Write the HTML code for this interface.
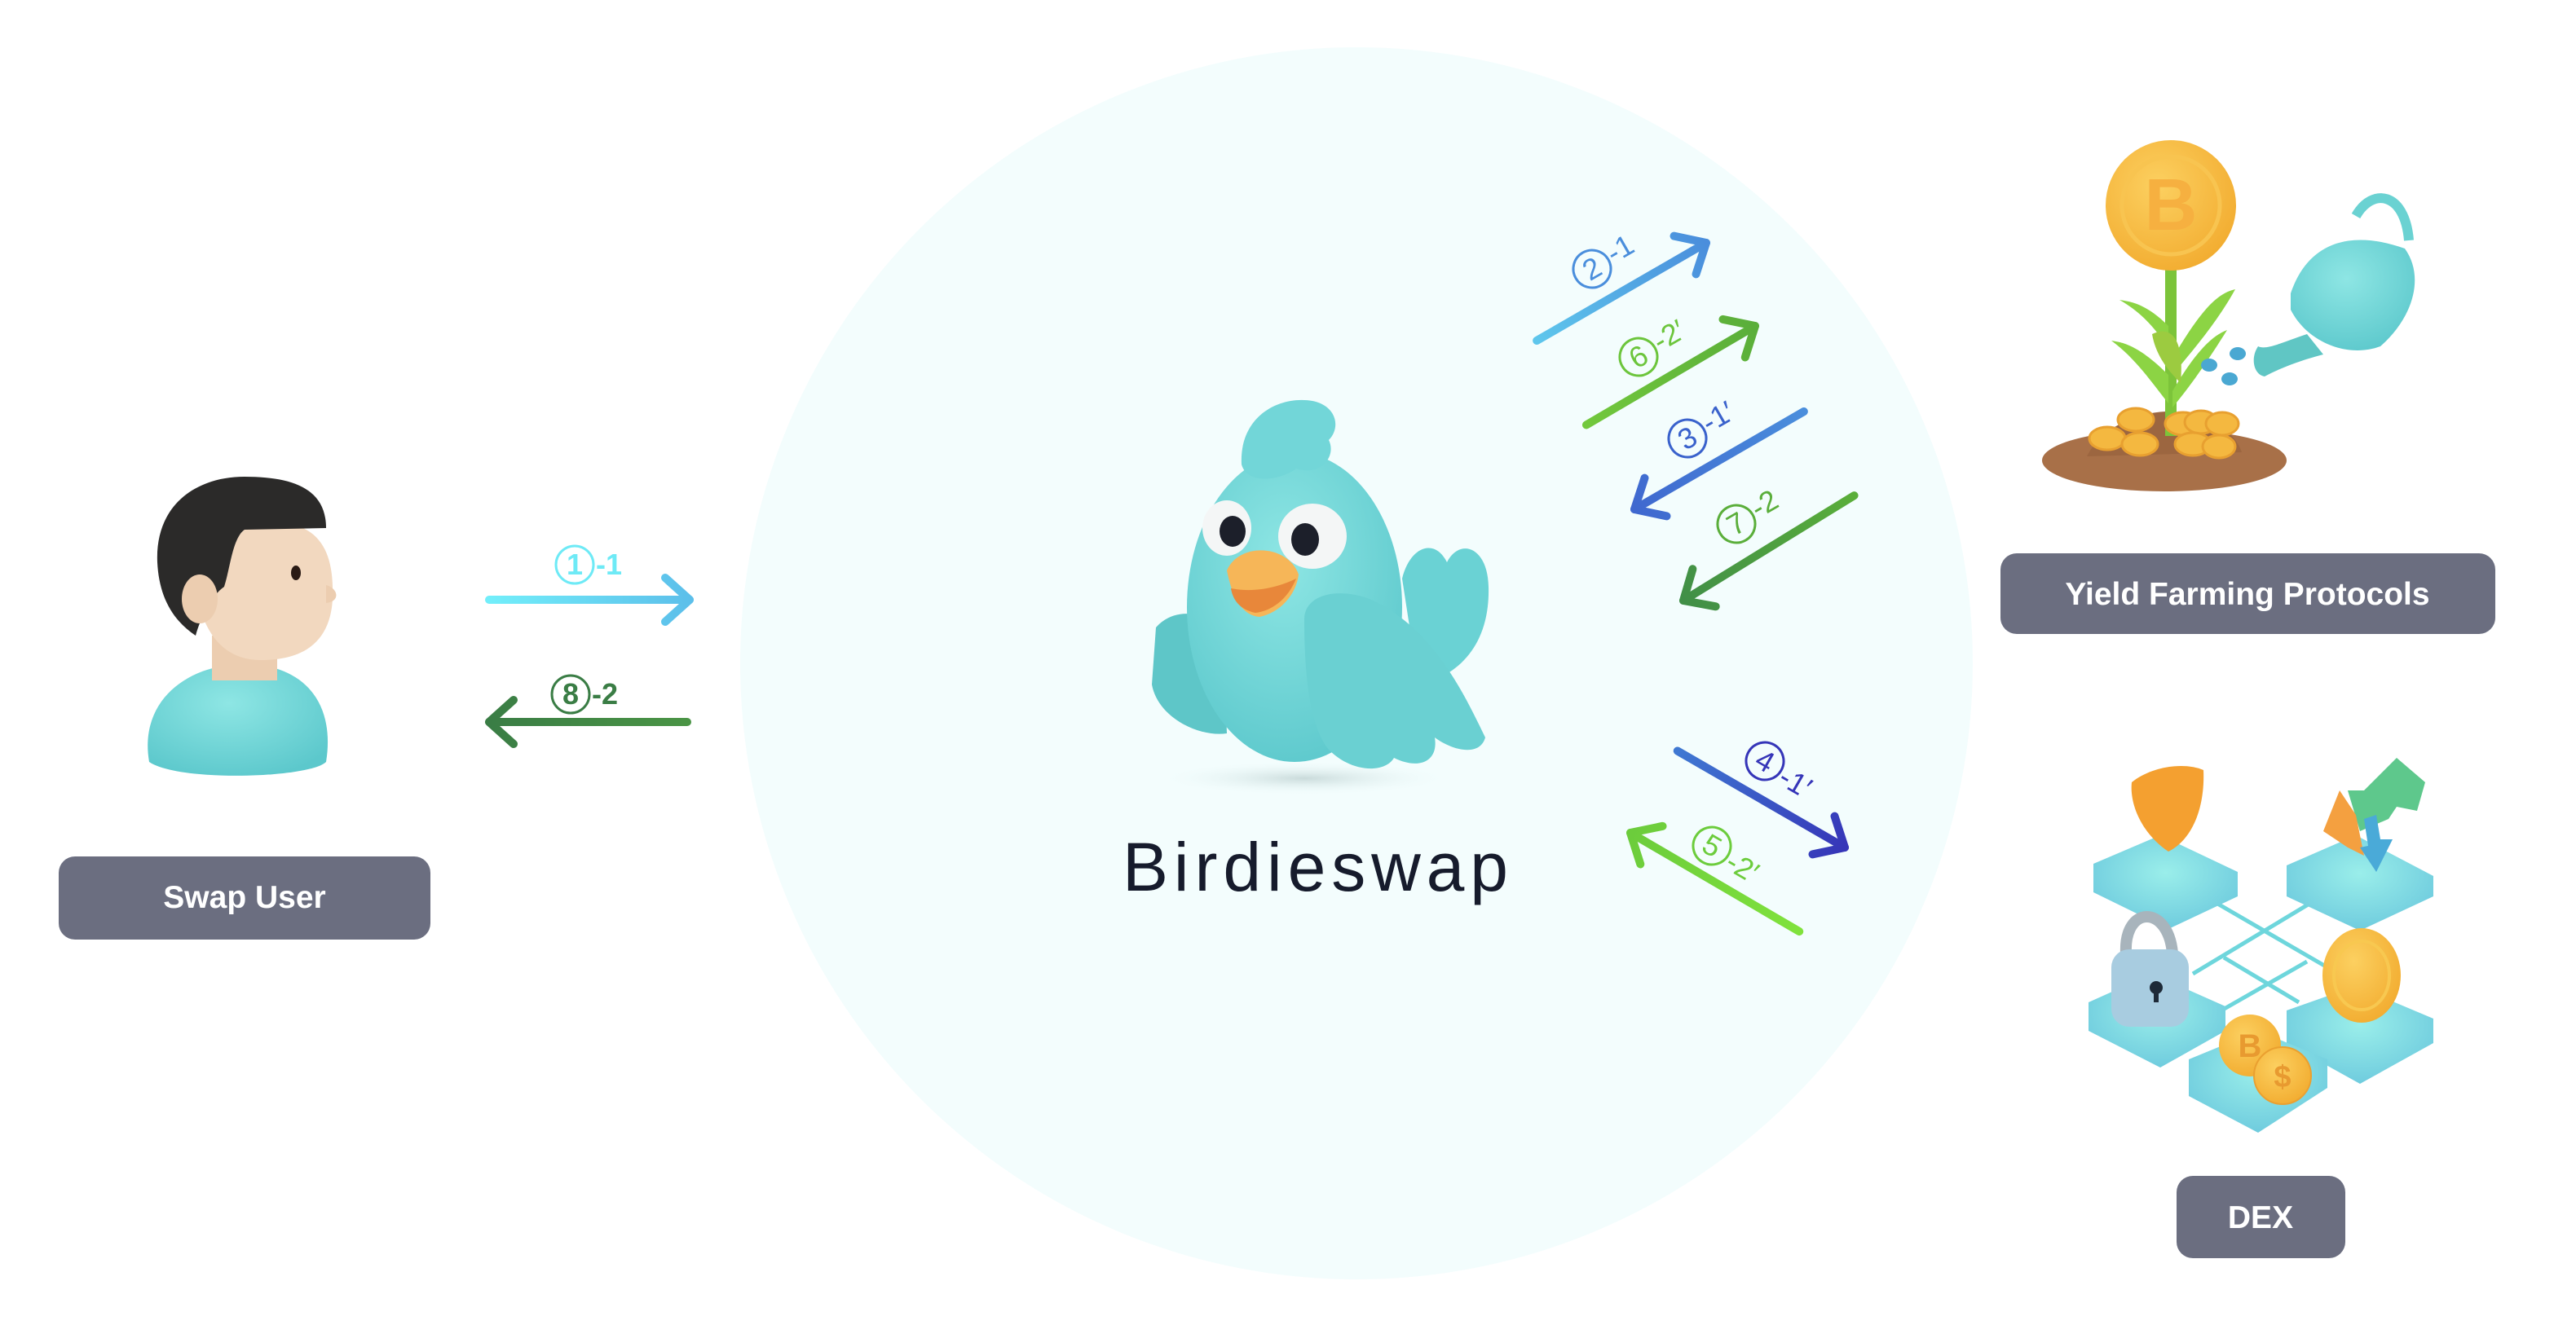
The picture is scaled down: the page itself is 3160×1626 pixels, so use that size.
<!DOCTYPE html>
<html><head><meta charset="utf-8"><style>
html,body{margin:0;padding:0;background:#fff;}
svg{display:block;}
text{font-family:"Liberation Sans",sans-serif;}
</style></head><body>
<svg width="3160" height="1626" viewBox="0 0 3160 1626" xmlns="http://www.w3.org/2000/svg">
<defs>
<linearGradient id="g1" gradientUnits="userSpaceOnUse" x1="-240" y1="0" x2="0" y2="0"><stop offset="0" stop-color="#5ec6ec"/><stop offset="1" stop-color="#4a8edc"/></linearGradient>
<linearGradient id="g2" gradientUnits="userSpaceOnUse" x1="-240" y1="0" x2="0" y2="0"><stop offset="0" stop-color="#72c83c"/><stop offset="1" stop-color="#5aae3a"/></linearGradient>
<linearGradient id="g3" gradientUnits="userSpaceOnUse" x1="-240" y1="0" x2="0" y2="0"><stop offset="0" stop-color="#4a8edc"/><stop offset="1" stop-color="#3f68cf"/></linearGradient>
<linearGradient id="g4" gradientUnits="userSpaceOnUse" x1="-246" y1="0" x2="0" y2="0"><stop offset="0" stop-color="#5aae3a"/><stop offset="1" stop-color="#418f47"/></linearGradient>
<linearGradient id="g5" gradientUnits="userSpaceOnUse" x1="-237" y1="0" x2="0" y2="0"><stop offset="0" stop-color="#3f78d2"/><stop offset="1" stop-color="#3636b8"/></linearGradient>
<linearGradient id="g6" gradientUnits="userSpaceOnUse" x1="-240" y1="0" x2="0" y2="0"><stop offset="0" stop-color="#80e23c"/><stop offset="1" stop-color="#6ccc3c"/></linearGradient>
<linearGradient id="g7" gradientUnits="userSpaceOnUse" x1="-246" y1="0" x2="0" y2="0"><stop offset="0" stop-color="#72eefa"/><stop offset="1" stop-color="#5cbfea"/></linearGradient>
<linearGradient id="g8" gradientUnits="userSpaceOnUse" x1="-243" y1="0" x2="0" y2="0"><stop offset="0" stop-color="#4a9445"/><stop offset="1" stop-color="#3a7d45"/></linearGradient>
<radialGradient id="coin" cx="0.4" cy="0.35" r="0.7"><stop offset="0" stop-color="#fcd060"/><stop offset="1" stop-color="#f2ac30"/></radialGradient>
<radialGradient id="teal" cx="0.45" cy="0.35" r="0.7"><stop offset="0" stop-color="#8ee6e4"/><stop offset="1" stop-color="#5cc8cc"/></radialGradient>
<radialGradient id="tile" cx="0.5" cy="0.4" r="0.7"><stop offset="0" stop-color="#9aeeea"/><stop offset="1" stop-color="#68c6dc"/></radialGradient>
<radialGradient id="shadow" cx="0.5" cy="0.5" r="0.5"><stop offset="0" stop-color="#b8cccc" stop-opacity="0.7"/><stop offset="1" stop-color="#e8f8f8" stop-opacity="0"/></radialGradient>
</defs>

<circle cx="1664" cy="814" r="756" fill="#f3fdfd"/>

<!-- arrows -->
<g fill="none" stroke-width="10" stroke-linecap="round" stroke-linejoin="round">
<g transform="translate(2093,298) rotate(-30)" stroke="url(#g1)"><line x1="-240" y1="0" x2="0" y2="0"/><polyline points="-30,-27 0,0 -30,27"/></g>
<g transform="translate(2153,400) rotate(-30.4)" stroke="url(#g2)"><line x1="-240" y1="0" x2="0" y2="0"/><polyline points="-30,-27 0,0 -30,27"/></g>
<g transform="translate(2005,625) rotate(150)" stroke="url(#g3)"><line x1="-240" y1="0" x2="0" y2="0"/><polyline points="-30,-27 0,0 -30,27"/></g>
<g transform="translate(2065,737) rotate(148.4)" stroke="url(#g4)"><line x1="-246" y1="0" x2="0" y2="0"/><polyline points="-30,-27 0,0 -30,27"/></g>
<g transform="translate(2263,1040) rotate(30)" stroke="url(#g5)"><line x1="-237" y1="0" x2="0" y2="0"/><polyline points="-30,-27 0,0 -30,27"/></g>
<g transform="translate(2000,1022) rotate(210.3)" stroke="url(#g6)"><line x1="-240" y1="0" x2="0" y2="0"/><polyline points="-30,-27 0,0 -30,27"/></g>
<g transform="translate(846,736)" stroke="url(#g7)"><line x1="-246" y1="0" x2="0" y2="0"/><polyline points="-30,-27 0,0 -30,27"/></g>
<g transform="translate(600,886) rotate(180)" stroke="url(#g8)"><line x1="-243" y1="0" x2="0" y2="0"/><polyline points="-30,-27 0,0 -30,27"/></g>
</g>

<!-- labels -->
<g font-size="36" font-weight="500">
<g transform="translate(1953,330) rotate(-30)" fill="#4a8edc"><circle r="23" fill="none" stroke="#4a8edc" stroke-width="3"/><text x="0" y="12" text-anchor="middle">2</text><text x="26" y="8">-1</text></g>
<g transform="translate(2010,438) rotate(-30)" fill="#6cc53c"><circle r="23" fill="none" stroke="#6cc53c" stroke-width="3"/><text x="0" y="12" text-anchor="middle">6</text><text x="26" y="8">-2′</text></g>
<g transform="translate(2070,538) rotate(-30)" fill="#3a62cc"><circle r="23" fill="none" stroke="#3a62cc" stroke-width="3"/><text x="0" y="12" text-anchor="middle">3</text><text x="26" y="8">-1′</text></g>
<g transform="translate(2130,643) rotate(-30)" fill="#5aae3a"><circle r="23" fill="none" stroke="#5aae3a" stroke-width="3"/><text x="0" y="12" text-anchor="middle">7</text><text x="26" y="8">-2</text></g>
<g transform="translate(2165,934) rotate(30)" fill="#3535b8"><circle r="23" fill="none" stroke="#3535b8" stroke-width="3"/><text x="0" y="12" text-anchor="middle">4</text><text x="26" y="16">-1′</text></g>
<g transform="translate(2100,1038) rotate(30)" fill="#6ccc3c"><circle r="23" fill="none" stroke="#6ccc3c" stroke-width="3"/><text x="0" y="12" text-anchor="middle">5</text><text x="26" y="16">-2′</text></g>
<g transform="translate(705,693)" fill="#6eeaf6" font-weight="700"><circle r="23" fill="none" stroke="#6eeaf6" stroke-width="3"/><text x="0" y="12" text-anchor="middle">1</text><text x="26" y="12">-1</text></g>
<g transform="translate(700,852)" fill="#3a7d45" font-weight="700"><circle r="23" fill="none" stroke="#3a7d45" stroke-width="3"/><text x="0" y="12" text-anchor="middle">8</text><text x="26" y="12">-2</text></g>
</g>

<!-- user -->
<g>
<path d="M183,935 C170,860 230,815 300,815 C370,815 412,860 400,935 C380,955 220,960 183,935Z" fill="url(#teal)"/>
<rect x="260" y="780" width="80" height="55" fill="#eccdb0"/>
<path d="M237,690 C237,630 290,640 330,640 C395,640 410,680 408,735 C405,790 370,810 320,810 C270,810 240,770 237,690Z" fill="#f2d8bf"/>
<path d="M193,690 C190,620 240,585 300,585 C360,585 400,600 400,648 L300,650 C285,660 282,700 275,720 C260,730 245,760 240,780 C210,760 195,730 193,690Z" fill="#2b2a29"/>
<ellipse cx="245" cy="735" rx="22" ry="30" fill="#eccdb0"/>
<ellipse cx="363" cy="703" rx="6" ry="9" fill="#2a1a14"/>
<path d="M400,718 C415,722 418,738 400,740Z" fill="#eccdb0"/>
</g>

<!-- bird -->
<g>
<ellipse cx="1600" cy="955" rx="170" ry="20" fill="url(#shadow)"/>
<path d="M1418,770 C1440,745 1475,750 1500,770 L1505,900 C1470,905 1420,880 1413,840Z" fill="#5ec6c8"/>
<path d="M1720,710 C1730,670 1760,660 1775,690 C1790,660 1825,670 1826,720 C1828,790 1790,830 1740,840Z" fill="#6ad2d4"/>
<ellipse cx="1588" cy="745" rx="132" ry="190" fill="url(#teal)"/>
<path d="M1523,570 C1520,510 1570,485 1610,492 C1640,498 1645,525 1630,540 C1640,560 1620,585 1590,575 C1570,590 1530,595 1523,570Z" fill="#72d6d8"/>
<path d="M1600,760 C1600,730 1640,720 1680,735 C1760,770 1800,860 1822,905 C1815,930 1780,920 1760,905 C1765,935 1740,945 1710,930 C1700,948 1660,950 1630,920 C1605,890 1600,820 1600,760Z" fill="#6ad0d2"/>
<ellipse cx="1505" cy="648" rx="30" ry="34" fill="#f4f6f6"/>
<ellipse cx="1512" cy="652" rx="16" ry="19" fill="#1c1f2a"/>
<ellipse cx="1610" cy="658" rx="42" ry="40" fill="#f4f6f6"/>
<ellipse cx="1601" cy="662" rx="17" ry="20" fill="#1c1f2a"/>
<path d="M1505,700 C1520,665 1580,668 1593,705 C1590,730 1570,752 1545,757 C1520,755 1510,725 1505,700Z" fill="#f6b658"/>
<path d="M1510,722 C1540,728 1570,720 1590,710 C1580,735 1560,750 1540,752 C1520,748 1512,735 1510,722Z" fill="#e8873a"/>
</g>
<text x="1377" y="1093" font-size="84" fill="#161b2c" textLength="473" lengthAdjust="spacing">Birdieswap</text>

<!-- yield farming -->
<g>
<ellipse cx="2655" cy="565" rx="150" ry="38" fill="#a87048"/>
<path d="M2560,560 C2580,520 2630,505 2660,505 C2700,505 2740,525 2750,555Z" fill="#9c6640"/>
<rect x="2656" y="330" width="14" height="205" fill="#7cc43a"/>
<path d="M2660,460 C2620,420 2600,420 2590,418 C2620,440 2640,470 2660,495Z" fill="#8cd444"/>
<path d="M2665,440 C2700,380 2720,360 2742,355 C2720,395 2690,430 2665,460Z" fill="#8cd444"/>
<path d="M2660,400 C2630,370 2610,370 2600,368 C2630,385 2650,410 2660,430Z" fill="#8cd444"/>
<path d="M2665,480 C2700,420 2720,410 2732,405 C2710,440 2690,470 2665,500Z" fill="#8cd444"/>
<path d="M2640,410 C2660,400 2680,410 2675,470 C2665,460 2645,440 2640,410Z" fill="#9ccb40"/>
<g fill="#f4b840" stroke="#e8a030" stroke-width="3">
<ellipse cx="2585" cy="538" rx="22" ry="14"/><ellipse cx="2620" cy="515" rx="22" ry="14"/><ellipse cx="2678" cy="520" rx="22" ry="14"/><ellipse cx="2700" cy="518" rx="20" ry="14"/><ellipse cx="2726" cy="520" rx="20" ry="14"/><ellipse cx="2625" cy="545" rx="22" ry="14"/><ellipse cx="2690" cy="545" rx="22" ry="14"/><ellipse cx="2722" cy="548" rx="20" ry="14"/>
</g>
<circle cx="2663" cy="252" r="80" fill="url(#coin)"/>
<circle cx="2663" cy="252" r="60" fill="none" stroke="#f8c450" stroke-width="5"/>
<text x="2663" y="282" font-size="90" font-weight="700" fill="#f6b040" text-anchor="middle">B</text>
<path d="M2810,360 C2830,300 2880,280 2950,305 C2975,340 2960,390 2920,425 C2880,440 2830,420 2810,380Z" fill="url(#teal)"/>
<path d="M2890,265 C2910,230 2950,235 2955,295" fill="none" stroke="#6ad2d2" stroke-width="12"/>
<path d="M2830,410 C2800,420 2780,430 2770,425 C2760,440 2765,460 2778,462 C2800,450 2830,440 2850,435Z" fill="#60c6c4"/>
<g fill="#4aa8d2"><ellipse cx="2745" cy="434" rx="10" ry="8"/><ellipse cx="2710" cy="448" rx="10" ry="8"/><ellipse cx="2735" cy="465" rx="10" ry="8"/></g>
</g>

<!-- DEX -->
<g>
<g stroke="#6ed6dc" stroke-width="5">
<line x1="2710" y1="1103" x2="2860" y2="1190"/><line x1="2843" y1="1103" x2="2690" y2="1195"/>
<line x1="2728" y1="1175" x2="2820" y2="1230"/><line x1="2830" y1="1180" x2="2725" y2="1240"/>
</g>
<g fill="url(#tile)">
<path d="M2568,1060 L2650,1025 L2745,1070 L2745,1100 L2660,1140 L2568,1095Z"/>
<path d="M2805,1062 L2890,1025 L2985,1075 L2985,1100 L2895,1142 L2805,1100Z"/>
<path d="M2562,1230 L2640,1195 L2730,1235 L2730,1265 L2650,1310 L2562,1265Z"/>
<path d="M2805,1240 L2890,1210 L2985,1250 L2985,1280 L2895,1330 L2805,1280Z"/>
<path d="M2685,1300 L2770,1265 L2855,1300 L2855,1335 L2770,1390 L2685,1345Z"/>
</g>
<path d="M2615,960 C2640,940 2680,935 2703,945 C2705,990 2690,1030 2660,1045 C2630,1025 2612,990 2615,960Z" fill="#f4a030"/>
<path d="M2895,1020 L2880,970 L2900,970 L2940,930 L2975,960 L2965,995 L2940,990 L2930,1005Z" fill="#5ec88c"/>
<path d="M2850,1020 L2870,970 L2890,1000 L2900,1050 L2880,1040Z" fill="#f4a040"/>
<path d="M2900,1005 L2915,1000 L2920,1030 L2935,1030 L2915,1070 L2895,1040 L2905,1038Z" fill="#4aaad8"/>
<path d="M2608,1170 C2605,1110 2660,1110 2665,1170" fill="none" stroke="#a8b4bc" stroke-width="14"/>
<rect x="2590" y="1165" width="95" height="95" rx="22" fill="#a8cce0"/>
<circle cx="2645" cy="1212" r="8" fill="#1e2a38"/><rect x="2642" y="1212" width="6" height="18" fill="#1e2a38"/>
<ellipse cx="2897" cy="1197" rx="48" ry="58" fill="url(#coin)"/>
<ellipse cx="2897" cy="1197" rx="34" ry="42" fill="none" stroke="#f8c850" stroke-width="4"/>
<circle cx="2760" cy="1283" r="38" fill="url(#coin)"/>
<circle cx="2800" cy="1320" r="35" fill="url(#coin)" stroke="#eaa030" stroke-width="2"/>
<text x="2760" y="1297" font-size="40" font-weight="700" fill="#e89a30" text-anchor="middle">B</text>
<text x="2800" y="1334" font-size="38" font-weight="700" fill="#e89a30" text-anchor="middle">$</text>
</g>

<!-- label boxes -->
<rect x="72" y="1051" width="456" height="102" rx="20" fill="#6b6e80"/>
<text x="300" y="1114" font-size="39" font-weight="700" fill="#fff" text-anchor="middle">Swap User</text>
<rect x="2454" y="679" width="607" height="99" rx="20" fill="#6b6e80"/>
<text x="2757" y="742" font-size="39" font-weight="700" fill="#fff" text-anchor="middle">Yield Farming Protocols</text>
<rect x="2670" y="1443" width="207" height="101" rx="20" fill="#6b6e80"/>
<text x="2773" y="1507" font-size="39" font-weight="700" fill="#fff" text-anchor="middle">DEX</text>
</svg>
</body></html>
